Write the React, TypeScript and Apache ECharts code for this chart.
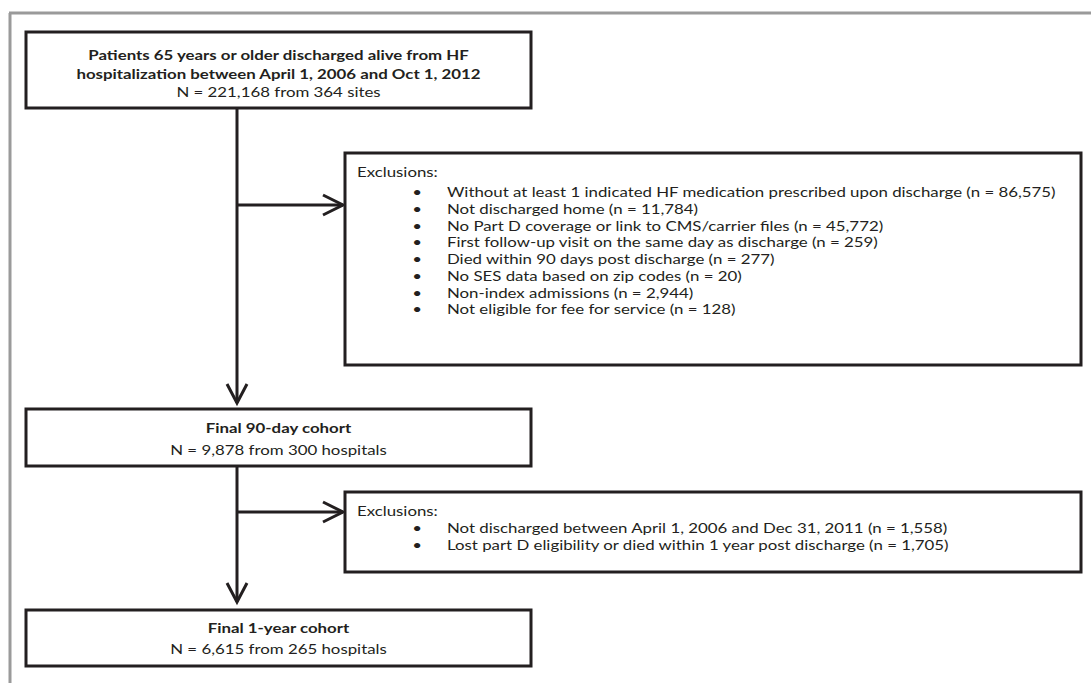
import React, { useEffect, useRef } from "react";
import * as echarts from "echarts";

const topBoxBold = [
  "Patients 65 years or older discharged alive from HF",
  "hospitalization between April 1, 2006 and Oct 1, 2012",
];
const topBoxNormal = "N = 221,168 from 364 sites";
const exclusionTitle = "Exclusions:";
const exclusions1 = [
  "Without at least 1 indicated HF medication prescribed upon discharge (n = 86,575)",
  "Not discharged home (n = 11,784)",
  "No Part D coverage or link to CMS/carrier files (n = 45,772)",
  "First follow-up visit on the same day as discharge (n = 259)",
  "Died within 90 days post discharge (n = 277)",
  "No SES data based on zip codes (n = 20)",
  "Non-index admissions (n = 2,944)",
  "Not eligible for fee for service (n = 128)",
];
const cohort90Bold = "Final 90-day cohort";
const cohort90Normal = "N = 9,878 from 300 hospitals";
const exclusions2 = [
  "Not discharged between April 1, 2006 and Dec 31, 2011 (n = 1,558)",
  "Lost part D eligibility or died within 1 year post discharge (n = 1,705)",
];
const cohort1yBold = "Final 1-year cohort";
const cohort1yNormal = "N = 6,615 from 265 hospitals";

const FONT = "Lato, 'Open Sans', sans-serif";
const INK = "#231f20";
const FS = 13.8;
const SX = 1.22;

function txt(text: string, x: number, y: number, bold = false, align = "left") {
  return {
    type: "text",
    x,
    y,
    scaleX: SX,
    style: {
      text,
      fill: INK,
      fontFamily: FONT,
      fontSize: FS,
      fontWeight: bold ? "bold" : "normal",
      align,
      verticalAlign: "middle",
    },
  };
}
function box(x: number, y: number, w: number, h: number) {
  return {
    type: "rect",
    shape: { x, y, width: w, height: h },
    style: { fill: "#fff", stroke: INK, lineWidth: 3 },
  };
}
function line(x1: number, y1: number, x2: number, y2: number, stroke = INK, lw = 3) {
  return {
    type: "line",
    shape: { x1, y1, x2, y2 },
    style: { stroke, lineWidth: lw },
  };
}
function arrowDown(x: number, y: number) {
  return {
    type: "polyline",
    shape: { points: [[x - 10, y - 19], [x, y], [x + 10, y - 19]] },
    style: { stroke: INK, lineWidth: 3, fill: null },
  };
}
function arrowRight(x: number, y: number) {
  return {
    type: "polyline",
    shape: { points: [[x - 20, y - 10], [x, y], [x - 20, y + 10]] },
    style: { stroke: INK, lineWidth: 3, fill: null },
  };
}

export default function App() {
  const ref = useRef<HTMLDivElement>(null);
  useEffect(() => {
    if (!ref.current) return;
    const chart = echarts.init(ref.current, null, { renderer: "svg" });
    const spineX = 237;
    const mainL = 26;
    const mainR = 531;
    const cx = (mainL + mainR) / 2;
    const exL = 345;
    const exR = 1081;
    const bulletX = 417;
    const textX = 447;
    const step = 16.7;

    const elements: any[] = [];
    elements.push(line(9, 13, 1091, 13, "#9a9a9a", 3));
    elements.push(line(10, 13, 10, 683, "#9a9a9a", 3));

    elements.push(line(spineX, 108, spineX, 403));
    elements.push(arrowDown(spineX, 403));
    elements.push(line(spineX, 205, exL - 2, 205));
    elements.push(arrowRight(exL - 2, 205));
    elements.push(line(spineX, 466, spineX, 602));
    elements.push(arrowDown(spineX, 602));
    elements.push(line(spineX, 512, exL - 2, 512));
    elements.push(arrowRight(exL - 2, 512));

    elements.push(box(mainL, 32, mainR - mainL, 76));
    elements.push(txt(topBoxBold[0], cx, 55, true, "center"));
    elements.push(txt(topBoxBold[1], cx, 73.5, true, "center"));
    elements.push(txt(topBoxNormal, cx, 92, false, "center"));

    elements.push(box(exL, 153, exR - exL, 212));
    elements.push(txt(exclusionTitle, 357, 172));
    exclusions1.forEach((t, i) => {
      const y = 192 + i * step;
      elements.push(txt("•", bulletX, y, false, "center"));
      elements.push(txt(t, textX, y));
    });

    elements.push(box(mainL, 409, mainR - mainL, 57));
    elements.push(txt(cohort90Bold, cx, 428, true, "center"));
    elements.push(txt(cohort90Normal, cx, 450, false, "center"));

    elements.push(box(exL, 492, exR - exL, 80));
    elements.push(txt(exclusionTitle, 357, 511));
    exclusions2.forEach((t, i) => {
      const y = 528 + i * step;
      elements.push(txt("•", bulletX, y, false, "center"));
      elements.push(txt(t, textX, y));
    });

    elements.push(box(mainL, 610, mainR - mainL, 56));
    elements.push(txt(cohort1yBold, cx, 628, true, "center"));
    elements.push(txt(cohort1yNormal, cx, 649, false, "center"));

    chart.setOption({
      animation: false,
      backgroundColor: "#ffffff",
      graphic: { elements },
    });
    return () => chart.dispose();
  }, []);
  return (
    <div
      ref={ref}
      style={{ position: "fixed", left: 0, top: 0, width: 1091, height: 683 }}
    />
  );
}
